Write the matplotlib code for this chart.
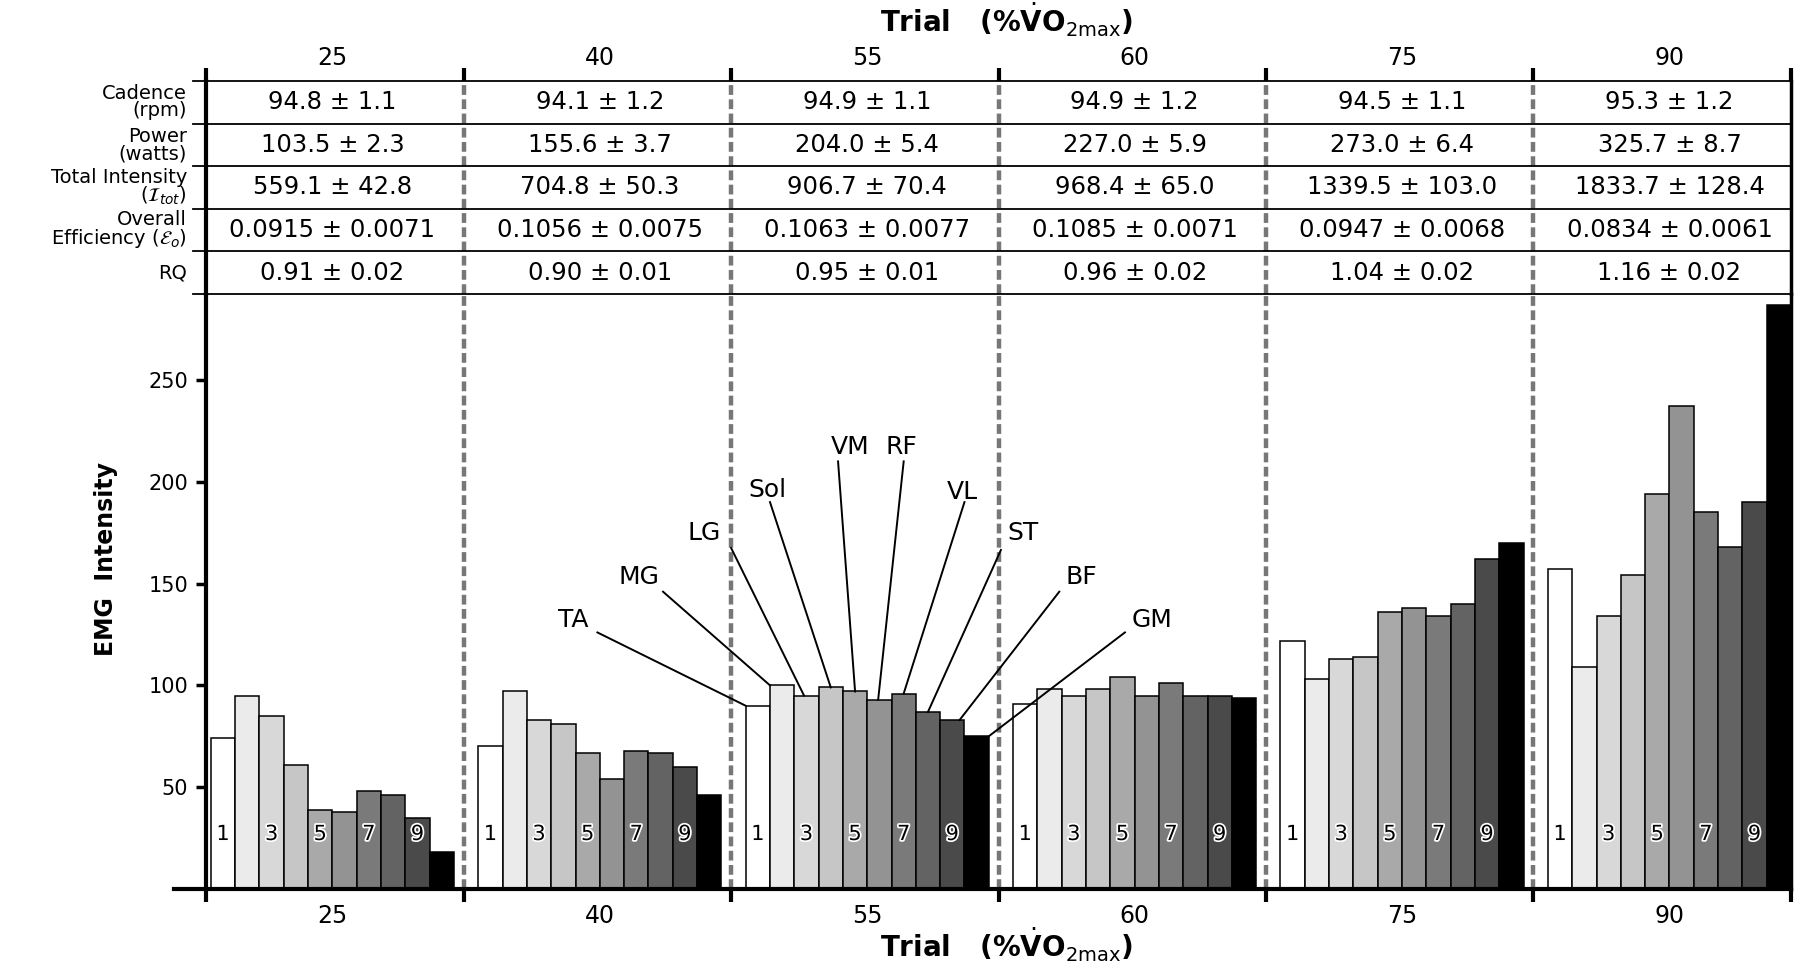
import matplotlib
matplotlib.use('Agg')
import matplotlib.pyplot as plt
import matplotlib.patheffects as pe
import numpy as np

# Data
trials = ['25', '40', '55', '60', '75', '90']
muscles = ['TA', 'MG', 'LG', 'Sol', 'VM', 'RF', 'VL', 'ST', 'BF', 'GM']

emg_25 = [74, 95, 85, 61, 39, 38, 48, 46, 35, 18]
emg_40 = [70, 97, 83, 81, 67, 54, 68, 67, 60, 46]
emg_55 = [90, 100, 95, 99, 97, 93, 96, 87, 83, 75]
emg_60 = [91, 98, 95, 98, 104, 95, 101, 95, 95, 94]
emg_75 = [122, 103, 113, 114, 136, 138, 134, 140, 162, 170]
emg_90 = [157, 109, 134, 154, 194, 237, 185, 168, 190, 287]
emg = [emg_25, emg_40, emg_55, emg_60, emg_75, emg_90]

cadence = [94.8, 94.1, 94.9, 94.9, 94.5, 95.3]
cadence_sd = [1.1, 1.2, 1.1, 1.2, 1.1, 1.2]
power = [103.5, 155.6, 204.0, 227.0, 273.0, 325.7]
power_sd = [2.3, 3.7, 5.4, 5.9, 6.4, 8.7]
total = [559.1, 704.8, 906.7, 968.4, 1339.5, 1833.7]
total_sd = [42.8, 50.3, 70.4, 65.0, 103.0, 128.4]
effic = [0.0915, 0.1056, 0.1063, 0.1085, 0.0947, 0.0834]
effic_sd = [0.0071, 0.0075, 0.0077, 0.0071, 0.0068, 0.0061]
rq = [0.91, 0.90, 0.95, 0.96, 1.04, 1.16]
rq_sd = [0.02, 0.01, 0.01, 0.02, 0.02, 0.02]

row_labels = ['Cadence\n(rpm)', 'Power\n(watts)',
              'Total Intensity\n($\\mathcal{I}_{tot}$)',
              'Overall\nEfficiency ($\\mathcal{E}_o$)', 'RQ']
rows = [(cadence, cadence_sd, 1), (power, power_sd, 1), (total, total_sd, 1),
        (effic, effic_sd, 4), (rq, rq_sd, 2)]

greys = ['#ffffff', '#ebebeb', '#d8d8d8', '#c6c6c6', '#a9a9a9',
         '#939393', '#7a7a7a', '#636363', '#4a4a4a', '#000000']

# Layout (label text position, leader line start, fraction along bar top)
label_xy = [(15.5, 132), (18.2, 153), (20.9, 175), (23.5, 196), (26.9, 217),
            (29.0, 217), (31.5, 195), (34.0, 175), (36.4, 153), (39.3, 132)]
line_start = [(16.5, 126), (19.2, 146), (22.0, 167.5), (23.6, 190), (26.4, 210),
              (29.1, 210), (31.6, 190), (33.1, 166.5), (35.5, 146), (38.2, 126)]
line_frac = [0, 0, 0.4, 0.5, 0.5, 0.45, 0.5, 0.5, 0.8, 1.0]

gw = 11
off = 0.6
xmin, xmax = 0.4, 65.6
bounds = [xmin] + [gw * g for g in range(1, 6)] + [xmax]
centers = [gw * g + off + 5 for g in range(6)]
dash_col = '#777777'
title = 'Trial   (%$\\dot{\\mathbf{V}}\\mathbf{O}_{\\mathrm{2max}}$)'

W, H = 1797, 967
fig = plt.figure(figsize=(W / 100, H / 100), dpi=100)
ax = fig.add_axes([206 / W, 78 / H, 1585 / W, 595 / H])
tab = fig.add_axes([206 / W, 673 / H, 1585 / W, 213 / H])

# Bars
for g, vals in enumerate(emg):
    x = gw * g + off + np.arange(10)
    ax.bar(x, vals, width=1, align='edge', color=greys,
           edgecolor='black', linewidth=1.1, zorder=3)
    for j in range(0, 10, 2):
        ax.text(x[j] + 0.5, 27, str(j + 1), ha='center', va='center',
                fontsize=15, zorder=4,
                path_effects=[pe.withStroke(linewidth=2.5, foreground='white')])

# Muscle labels on the 55 % trial
g = 2
for j, name in enumerate(muscles):
    ex = gw * g + off + j + line_frac[j]
    ey = emg[g][j]
    sx, sy = line_start[j]
    ax.plot([sx, ex], [sy, ey], color='black', lw=1.4, zorder=5)
    ax.text(label_xy[j][0], label_xy[j][1], name, ha='center', va='center',
            fontsize=18)

ax.set_xlim(xmin, xmax)
ax.set_ylim(0, 292.2)
for b in bounds[1:-1]:
    ax.axvline(b, color=dash_col, lw=3.2, dashes=(2.2, 1.0), zorder=2)
    tab.axvline(b, color=dash_col, lw=3.2, dashes=(2.2, 1.0), zorder=2)

ax.spines['top'].set_visible(False)
ax.spines['bottom'].set_visible(False)
ax.spines['left'].set_linewidth(3)
ax.spines['right'].set_linewidth(2.5)
ax.plot([-0.92, xmax], [0, 0], color='black', lw=3, clip_on=False, zorder=6)

ax.set_yticks([50, 100, 150, 200, 250])
ax.tick_params(axis='y', direction='out', length=7, width=2.5, labelsize=15, pad=6)
ax.set_xticks(bounds)
ax.set_xticklabels([])
ax.set_xticks(centers, minor=True)
ax.set_xticklabels(trials, minor=True)
ax.tick_params(axis='x', which='major', direction='out', length=9, width=3)
ax.tick_params(axis='x', which='minor', length=0, labelsize=17, pad=11)
ax.set_ylabel('EMG  Intensity', fontsize=17, fontweight='bold')
ax.yaxis.set_label_coords(-0.0555, 0.555)

fig.text(0.56, (H - 957) / H, title, ha='center', va='baseline',
         fontsize=20, fontweight='bold')
fig.text(0.56, (H - 32) / H, title, ha='center', va='baseline',
         fontsize=20, fontweight='bold')

# Table
tab.set_xlim(xmin, xmax)
tab.set_ylim(0, 5)
for y in range(6):
    tab.plot([-0.135, xmax], [y, y], color='black', lw=1.3, clip_on=False, zorder=4)
for i, (vals, sds, d) in enumerate(rows):
    yc = 4.5 - i
    for g in range(6):
        tab.text(centers[g], yc, f'{vals[g]:.{d}f} ± {sds[g]:.{d}f}',
                 ha='center', va='center', fontsize=17.5)
    tab.text(-0.38, yc, row_labels[i], ha='right', va='center',
             fontsize=14, linespacing=0.88)

for s in ['top', 'bottom']:
    tab.spines[s].set_visible(False)
tab.spines['left'].set_linewidth(3)
tab.spines['right'].set_linewidth(2.5)
tab.set_yticks([])
tab.set_xticks(bounds)
tab.set_xticklabels([])
tab.set_xticks(centers, minor=True)
tab.set_xticklabels(trials, minor=True)
tab.tick_params(axis='x', which='both', top=True, bottom=False,
                labeltop=True, labelbottom=False)
tab.tick_params(axis='x', which='major', direction='out', length=9.5, width=3)
tab.tick_params(axis='x', which='minor', length=0, labelsize=17, pad=8)

fig.savefig('out.png', dpi=100)
